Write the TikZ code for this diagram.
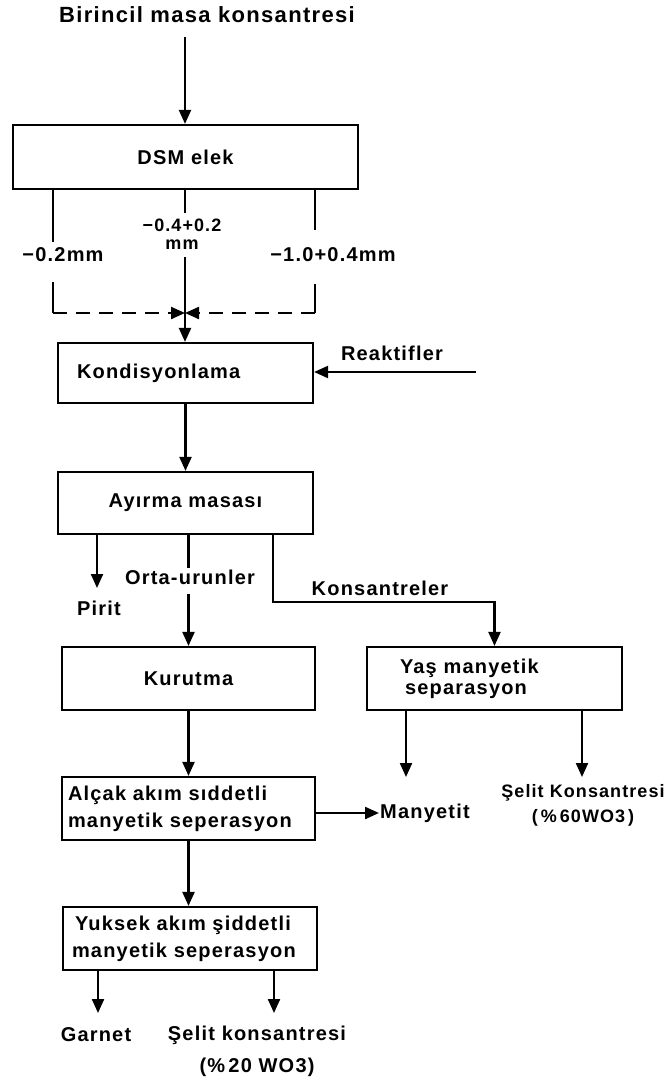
\documentclass[tikz,border=0pt]{standalone}
\usepackage{fontspec}
\setmainfont{Liberation Sans}[LetterSpace=6]
\usetikzlibrary{arrows.meta}

\newcommand{\etiketfont}{\fontsize{20}{27}\selectfont\bfseries}
\newcommand{\baslikfont}{\fontsize{22}{27}\selectfont\bfseries}
\newcommand{\kucukfont}{\fontsize{18}{24}\selectfont\bfseries}

\tikzset{
	kutu/.style={draw, line width=2.2pt, minimum height=63pt, inner sep=0pt, font=\etiketfont},
	etiket/.style={font=\etiketfont, inner sep=1pt},
	akis/.style={line width=2.2pt, -{Triangle[length=14pt,width=12pt]}},
	hat/.style={line width=2.2pt},
}

\begin{document}
\begin{tikzpicture}[x=1pt, y=-1pt]
		\useasboundingbox (0,0) rectangle (668,1079);
		
		% 1. Giris ve DSM elek
		\node[etiket, font=\baslikfont] (birincil) at (207,15) {Birincil masa konsantresi};
		\node[kutu, minimum width=345pt, minimum height=64pt] (dsm) at (185.5,157) {DSM elek};
		\coordinate (b1) at (185,37);
		\draw[akis] (b1) -- (b1 |- dsm.north);
		
		% 2. Elek fraksiyonlari
		\node[etiket] (ince) at (63,255) {−0.2mm};
		\node[etiket, font=\kucukfont, align=center, inner sep=0pt] (orta-boy) at (182,234) {−0.4+0.2\\[-6pt]mm};
		\node[etiket] (iri) at (333,255) {−1.0+0.4mm};
		\coordinate (i1) at (53,242);
		\coordinate (i2) at (53,282);
		\coordinate (o1) at (185,213);
		\coordinate (o2) at (185,257);
		\coordinate (r1) at (315,230);
		\coordinate (r2) at (315,284);
		\coordinate (birles) at (185,313);
		\draw[hat] (i1 |- dsm.south) -- (i1);
		\draw[hat] (o1 |- dsm.south) -- (o1);
		\draw[hat] (r1 |- dsm.south) -- (r1);
		\draw[hat] (i2) -- (i2 |- birles);
		\draw[hat] (r2) -- (r2 |- birles);
		\draw[akis, dash pattern=on 14pt off 9pt] (i2 |- birles) -- (birles);
		\draw[akis, dash pattern=on 14pt off 9pt] (r2 |- birles) -- (birles);
		
		% 3. Kondisyonlama ve ayirma masasi
		\node[kutu, text width=217pt, inner xsep=19pt, minimum height=60pt, align=left] (kond) at (185.5,373) {Kondisyonlama};
		\draw[akis] (o2) -- (o2 |- kond.north);
		\node[etiket] (reaktif) at (392,353) {Reaktifler};
		\coordinate (reak-giris) at (476,372);
		\draw[akis] (reak-giris) -- (reak-giris -| kond.east);
		\node[kutu, minimum width=255pt, minimum height=62pt] (ayirma) at (185.5,503) {Ayırma masası};
		\draw[akis] (kond) -- (ayirma);
		
		% 4. Ayirma urunleri
		\node[etiket] (pirit) at (99,608) {Pirit};
		\node[etiket] (orta) at (190,577) {Orta-urunler};
		\node[etiket] (kons) at (380,588) {Konsantreler};
		\coordinate (p1) at (97,588);
		\coordinate (k1) at (273,602);
		\draw[akis] (p1 |- ayirma.south) -- (p1);
		
		% 5. Kurutma ve yas manyetik separasyon
		\node[kutu, minimum width=253pt] (kurutma) at (188.5,678.5) {Kurutma};
		\node[kutu, text width=189pt, inner xsep=33pt, align=left] (yas) at (494.5,678.5) {Yaş manyetik\\[-6pt]\hspace*{5pt}separasyon};
		\draw[hat] (ayirma.south -| kurutma) -- (orta.north -| kurutma);
		\draw[akis, shorten <=8pt] (orta.south -| kurutma) -- (kurutma.north);
		\draw[akis] (k1 |- ayirma.south) -- (k1) -| (yas.north);
		
		% 6. Alcak akim siddetli separasyon
		\node[kutu, text width=241pt, inner xsep=6pt, align=left] (alcak) at (188.5,808.5) {Alçak akım sıddetli\\manyetik seperasyon};
		\draw[akis] (kurutma) -- (alcak);
		\node[etiket, anchor=west] (manyetit) at (379,813) {Manyetit};
		\draw[akis] (alcak.east |- manyetit) -- (manyetit.west);
		\node[etiket, font=\kucukfont, align=center] (selil) at (583,805) {Şelit Konsantresi\\[1pt](\,\%\,60WO3\,)};
		\coordinate (y1) at (406,777);
		\coordinate (y2) at (582,777);
		\draw[akis] (y1 |- yas.south) -- (y1);
		\draw[akis] (y2 |- yas.south) -- (y2);
		
		% 7. Yuksek akim siddetli separasyon
		\node[kutu, text width=236pt, inner xsep=9pt, align=left] (yuksek) at (190,938.5) {\hspace*{3pt}Yuksek akım şiddetli\\manyetik seperasyon};
		\draw[akis] (alcak.south) -- (alcak.south |- yuksek.north);
		\node[etiket] (garnet) at (96,1035) {Garnet};
		\node[etiket, align=center] (selit) at (257,1051) {Şelit konsantresi\\[5pt](\%\,20 WO3)};
		\coordinate (g1) at (98,1013);
		\coordinate (s1) at (274,1013);
		\draw[akis] (g1 |- yuksek.south) -- (g1);
		\draw[akis] (s1 |- yuksek.south) -- (s1);
		
\end{tikzpicture}
\end{document}
